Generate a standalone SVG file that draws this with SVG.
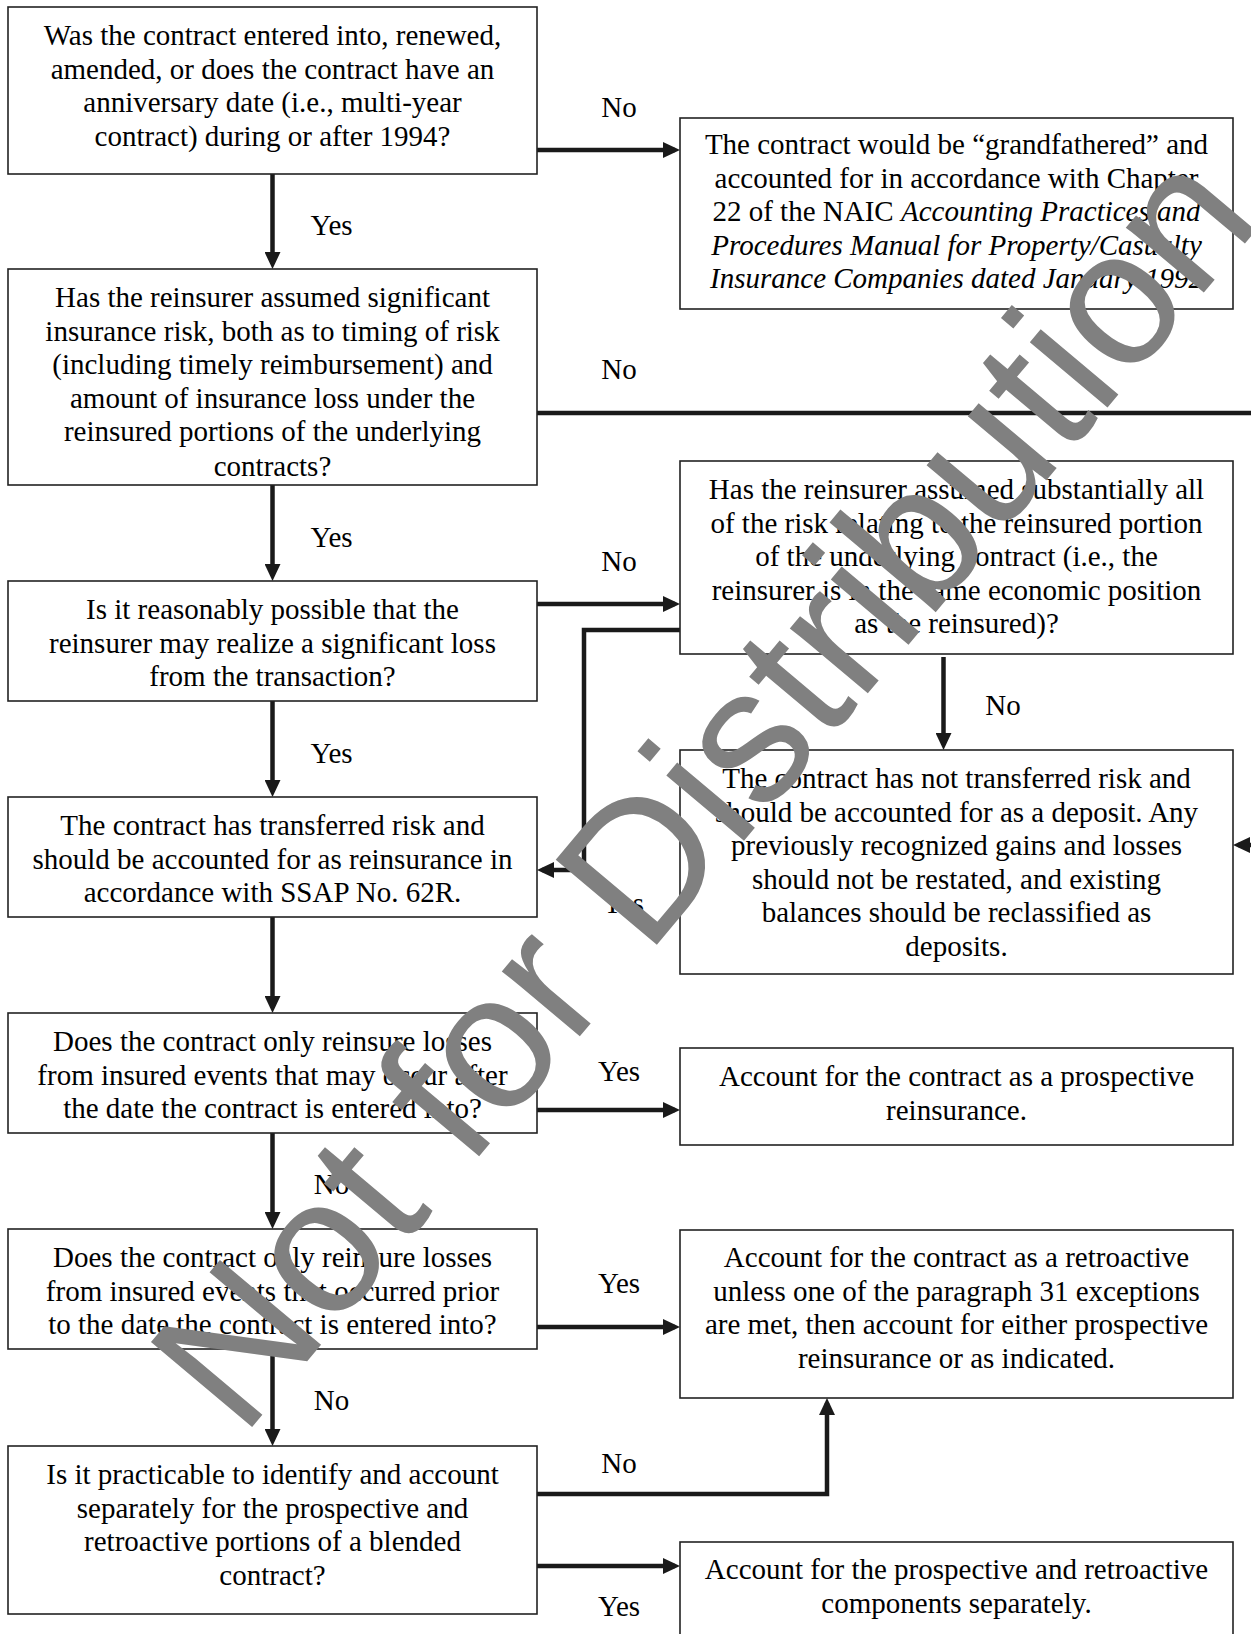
<svg xmlns="http://www.w3.org/2000/svg" width="1251" height="1634" viewBox="0 0 1251 1634">
<style>
.bg{fill:#ffffff}
.box{fill:#ffffff;stroke:#222222;stroke-width:1.6}
.t{font-family:"Liberation Serif","Times New Roman",serif;font-size:29px;fill:#000000;text-anchor:middle}
.lbl{font-family:"Liberation Serif","Times New Roman",serif;font-size:29px;fill:#000000;text-anchor:middle}
.c{fill:none;stroke:#1a1a1a;stroke-width:4.5;stroke-linejoin:miter;stroke-linecap:butt}
.wm{font-family:"Liberation Sans",Arial,sans-serif;font-size:192px;fill:#808080}
</style>
<defs>
<marker id="ah" markerUnits="userSpaceOnUse" markerWidth="17" markerHeight="16" refX="12" refY="8" orient="auto">
<path d="M0,0 L17,8 L0,16 Z" fill="#1a1a1a"/>
</marker>
<clipPath id="clip2"><rect x="8" y="269" width="529" height="207"/></clipPath>
</defs>
<rect class="bg" x="0" y="0" width="1251" height="1634"/>

<g id="connectors">
<path class="c" d="M537,150 H675" marker-end="url(#ah)"/>
<path class="c" d="M272.5,174 V264" marker-end="url(#ah)"/>
<path class="c" d="M537,413 H1275 V845 H1238" marker-end="url(#ah)"/>
<path class="c" d="M272.5,485 V576" marker-end="url(#ah)"/>
<path class="c" d="M537,604 H675" marker-end="url(#ah)"/>
<path class="c" d="M683,630 H584 V870 H542" marker-end="url(#ah)"/>
<path class="c" d="M943.5,657 V745" marker-end="url(#ah)"/>
<path class="c" d="M272.5,701 V792" marker-end="url(#ah)"/>
<path class="c" d="M272.5,917 V1008" marker-end="url(#ah)"/>
<path class="c" d="M537,1110 H675" marker-end="url(#ah)"/>
<path class="c" d="M272.5,1133 V1224" marker-end="url(#ah)"/>
<path class="c" d="M537,1327 H675" marker-end="url(#ah)"/>
<path class="c" d="M272.5,1349 V1441" marker-end="url(#ah)"/>
<path class="c" d="M537,1494 H827 V1403" marker-end="url(#ah)"/>
<path class="c" d="M537,1566 H675" marker-end="url(#ah)"/>
</g>

<g id="labels">
<text class="lbl" x="619" y="117">No</text>
<text class="lbl" x="331.5" y="235">Yes</text>
<text class="lbl" x="619" y="379">No</text>
<text class="lbl" x="331.5" y="547">Yes</text>
<text class="lbl" x="619" y="571">No</text>
<text class="lbl" x="1003" y="715">No</text>
<text class="lbl" x="331.5" y="763">Yes</text>
<text class="lbl" x="623" y="913">Yes</text>
<text class="lbl" x="619" y="1081">Yes</text>
<text class="lbl" x="331.5" y="1194">No</text>
<text class="lbl" x="619" y="1293">Yes</text>
<text class="lbl" x="331.5" y="1410">No</text>
<text class="lbl" x="619" y="1473">No</text>
<text class="lbl" x="619" y="1616">Yes</text>
</g>

<g id="q1">
<rect class="box" x="8" y="7" width="529" height="167"/>
<text class="t" x="272.5" y="45">Was the contract entered into, renewed,</text>
<text class="t" x="272.5" y="78.6">amended, or does the contract have an</text>
<text class="t" x="272.5" y="112.2">anniversary date (i.e., multi-year</text>
<text class="t" x="272.5" y="145.8">contract) during or after 1994?</text>
</g>

<g id="grandfathered">
<rect class="box" x="680" y="118" width="553" height="191"/>
<text class="t" x="956.5" y="154">The contract would be “grandfathered” and</text>
<text class="t" x="956.5" y="187.6">accounted for in accordance with Chapter</text>
<text class="t" x="956.5" y="221.2">22 of the NAIC <tspan font-style="italic">Accounting Practices and</tspan></text>
<text class="t" x="956.5" y="254.8" font-style="italic">Procedures Manual for Property/Casualty</text>
<text class="t" x="956.5" y="288.4" font-style="italic">Insurance Companies dated January 1992</text>
</g>

<g id="q2">
<rect class="box" x="8" y="269" width="529" height="216"/>
<g clip-path="url(#clip2)">
<text class="t" x="272.5" y="307">Has the reinsurer assumed significant</text>
<text class="t" x="272.5" y="340.6">insurance risk, both as to timing of risk</text>
<text class="t" x="272.5" y="374.2">(including timely reimbursement) and</text>
<text class="t" x="272.5" y="407.8">amount of insurance loss under the</text>
<text class="t" x="272.5" y="441.4">reinsured portions of the underlying</text>
<text class="t" x="272.5" y="476">contracts?</text>
</g>
</g>

<g id="q3">
<rect class="box" x="8" y="581" width="529" height="120"/>
<text class="t" x="272.5" y="619">Is it reasonably possible that the</text>
<text class="t" x="272.5" y="652.6">reinsurer may realize a significant loss</text>
<text class="t" x="272.5" y="686.2">from the transaction?</text>
</g>

<g id="substantially">
<rect class="box" x="680" y="461" width="553" height="193"/>
<text class="t" x="956.5" y="499">Has the reinsurer assumed substantially all</text>
<text class="t" x="956.5" y="532.6">of the risk relating to the reinsured portion</text>
<text class="t" x="956.5" y="566.2">of the underlying contract (i.e., the</text>
<text class="t" x="956.5" y="599.8">reinsurer is in the same economic position</text>
<text class="t" x="956.5" y="633.4">as the reinsured)?</text>
</g>

<g id="transferred">
<rect class="box" x="8" y="797" width="529" height="120"/>
<text class="t" x="272.5" y="835">The contract has transferred risk and</text>
<text class="t" x="272.5" y="868.6">should be accounted for as reinsurance in</text>
<text class="t" x="272.5" y="902.2">accordance with SSAP No. 62R.</text>
</g>

<g id="deposit">
<rect class="box" x="680" y="750" width="553" height="224"/>
<text class="t" x="956.5" y="788">The contract has not transferred risk and</text>
<text class="t" x="956.5" y="821.6">should be accounted for as a deposit. Any</text>
<text class="t" x="956.5" y="855.2">previously recognized gains and losses</text>
<text class="t" x="956.5" y="888.8">should not be restated, and existing</text>
<text class="t" x="956.5" y="922.4">balances should be reclassified as</text>
<text class="t" x="956.5" y="956">deposits.</text>
</g>

<g id="q5">
<rect class="box" x="8" y="1013" width="529" height="120"/>
<text class="t" x="272.5" y="1051">Does the contract only reinsure losses</text>
<text class="t" x="272.5" y="1084.6">from insured events that may occur after</text>
<text class="t" x="272.5" y="1118.2">the date the contract is entered into?</text>
</g>

<g id="prospective">
<rect class="box" x="680" y="1048" width="553" height="97"/>
<text class="t" x="956.5" y="1086">Account for the contract as a prospective</text>
<text class="t" x="956.5" y="1119.6">reinsurance.</text>
</g>

<g id="q6">
<rect class="box" x="8" y="1229" width="529" height="120"/>
<text class="t" x="272.5" y="1267">Does the contract only reinsure losses</text>
<text class="t" x="272.5" y="1300.6">from insured events that occurred prior</text>
<text class="t" x="272.5" y="1334.2">to the date the contract is entered into?</text>
</g>

<g id="retroactive">
<rect class="box" x="680" y="1230" width="553" height="168"/>
<text class="t" x="956.5" y="1267">Account for the contract as a retroactive</text>
<text class="t" x="956.5" y="1300.6">unless one of the paragraph 31 exceptions</text>
<text class="t" x="956.5" y="1334.2">are met, then account for either prospective</text>
<text class="t" x="956.5" y="1367.8">reinsurance or as indicated.</text>
</g>

<g id="q7">
<rect class="box" x="8" y="1446" width="529" height="168"/>
<text class="t" x="272.5" y="1484">Is it practicable to identify and account</text>
<text class="t" x="272.5" y="1517.6">separately for the prospective and</text>
<text class="t" x="272.5" y="1551.2">retroactive portions of a blended</text>
<text class="t" x="272.5" y="1584.8">contract?</text>
</g>

<g id="components">
<rect class="box" x="680" y="1542" width="553" height="110"/>
<text class="t" x="956.5" y="1579">Account for the prospective and retroactive</text>
<text class="t" x="956.5" y="1612.6">components separately.</text>
</g>

<text class="wm" x="242" y="1439" transform="rotate(-50 242 1439)">Not for Distribution</text>
</svg>
